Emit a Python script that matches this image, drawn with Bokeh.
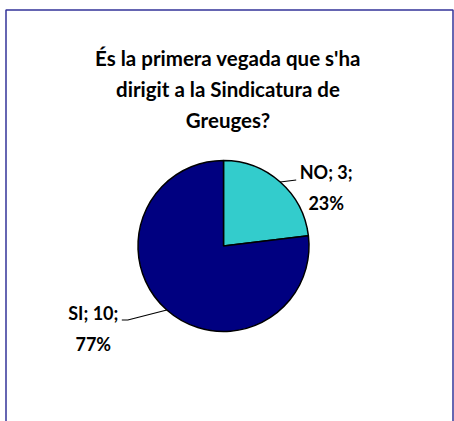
import math
from bokeh.plotting import figure
from bokeh.models import Range1d, ColumnDataSource
from bokeh.core.properties import value
from bokeh.embed import file_html
from bokeh.resources import INLINE

# ---- data ----
categories = ["NO", "SI"]
counts = [3, 10]
colors = ["#33CCCC", "#000080"]
title_lines = ["És la primera vegada que s'ha", "dirigit a la Sindicatura de", "Greuges?"]

W, H = 454, 421
FONT = "Lato"
TITLE_FS = "20.5px"
LABEL_FS = "18px"

def Y(py):  # screen y (from top) -> data y
    return H - py

def X(px):
    return px

p = figure(width=W, height=H, output_backend="svg", toolbar_location=None,
           x_range=Range1d(0, W), y_range=Range1d(0, H), min_border=0)
p.axis.visible = False
p.grid.visible = False
p.outline_line_color = None
p.background_fill_color = "white"
p.border_fill_color = "white"

# chart-area border (open at bottom, as in the reference crop)
border_color = "#333399"
p.line([X(5.5), X(5.5), X(452.5), X(452.5)], [Y(425), Y(9.5), Y(9.5), Y(425)],
       line_color=border_color, line_width=1.5)

# title
title_baselines = [57, 88.5, 119.5]
p.text(x=[X(227.5)] * 3, y=[Y(b) for b in title_baselines], text=title_lines,
       text_font=value(FONT), text_font_style="bold", text_font_size=TITLE_FS,
       text_align="center", text_baseline="alphabetic", text_color="black")

# pie
cx, cy, r = X(223), Y(245.5), 85.5
total = sum(counts)
fracs = [c / total for c in counts]
starts, ends, mids = [], [], []
acc = 0.0
for f in fracs:
    s_cw, e_cw = acc, acc + f
    starts.append(math.pi / 2 - e_cw * 2 * math.pi)
    ends.append(math.pi / 2 - s_cw * 2 * math.pi)
    mids.append(math.pi / 2 - (s_cw + e_cw) / 2 * 2 * math.pi)
    acc = e_cw

src = ColumnDataSource(dict(start=starts, end=ends, color=colors, cat=categories, val=counts))
p.wedge(x=cx, y=cy, radius=r, radius_units="screen", start_angle="start", end_angle="end",
        fill_color="color", line_color="black", line_width=1.5, source=src)

# labels with leader lines
pcts = [round(f * 100) for f in fracs]
leader_pts = [[(16, -2)], [(-39, 10), (-45, 10)]]
label_off = [(46, -10), (-73.5, 3)]
for i, cat in enumerate(categories):
    ex = cx + r * math.cos(mids[i])
    ey = cy + r * math.sin(mids[i])
    xs, ys = [ex], [ey]
    for dx, dy in leader_pts[i]:
        xs.append(ex + dx)
        ys.append(ey - dy)
    p.line(xs, ys, line_color="black", line_width=1.2)
    lx = ex + label_off[i][0]
    ly = ey - label_off[i][1]
    p.text(x=[lx, lx], y=[ly, ly - 31], text=[f"{cat}; {counts[i]};", f"{pcts[i]}%"],
           text_font=value(FONT), text_font_style="bold", text_font_size=LABEL_FS,
           text_align="center", text_baseline="alphabetic", text_color="black")

open("out.html", "w").write(file_html(p, INLINE))
